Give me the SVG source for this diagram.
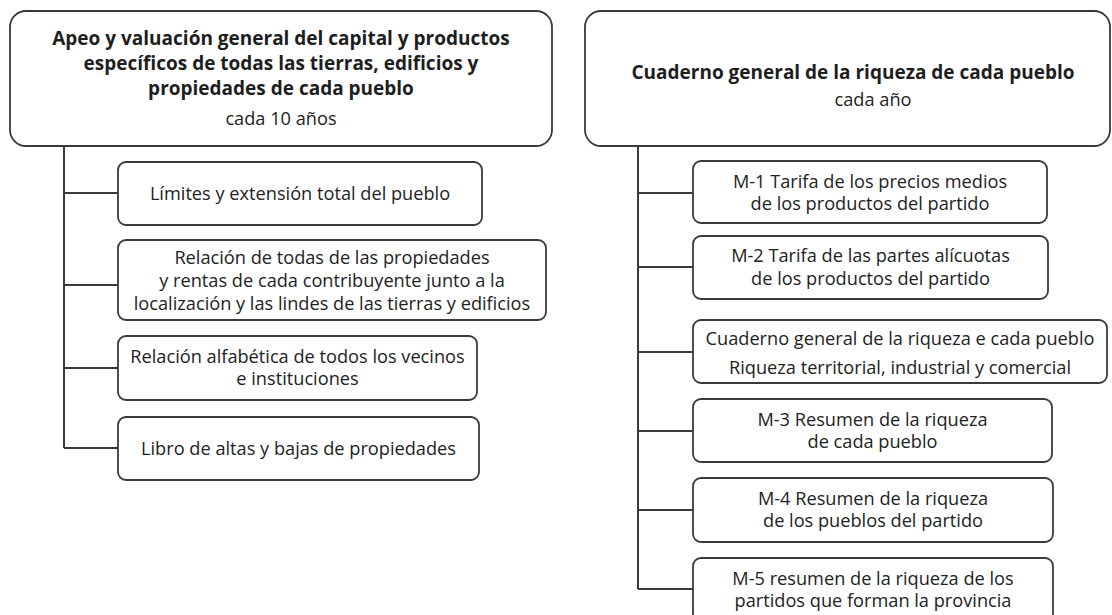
<svg xmlns="http://www.w3.org/2000/svg" width="1112" height="615" viewBox="0 0 1112 615">
<style>
.hdr{fill:#fff;stroke:#3a3a3a;stroke-width:1.8}
.box{fill:#fff;stroke:#3a3a3a;stroke-width:1.8}
.b{font-family:"Open Sans","Liberation Sans",sans-serif;font-weight:700;font-size:19px;fill:#1e1e1e;text-anchor:middle}
.t{font-family:"Open Sans","Liberation Sans",sans-serif;font-size:18.2px;fill:#222;text-anchor:middle}
.c{fill:none;stroke:#3a3a3a;stroke-width:2}
</style>
<rect width="1112" height="615" fill="#fff"/>
<g id="connectors">
<path class="c" d="M64 146V448M64 193H118M64 285H118M64 368H118M64 448H118"/>
<path class="c" d="M638 146V589M638 193H693M638 267H693M638 352H693M638 431H693M638 510H693M638 589H693"/>
</g>
<g id="hdr-left">
<rect class="hdr" x="10" y="11" width="542" height="135" rx="16"/>
<text class="b" x="281" y="45">Apeo y valuación general del capital y productos</text>
<text class="b" x="281" y="70">específicos de todas las tierras, edificios y</text>
<text class="b" x="281" y="95">propiedades de cada pueblo</text>
<text class="t" x="281" y="125">cada 10 años</text>
</g>
<g id="hdr-right">
<rect class="hdr" x="585" y="11" width="525" height="135" rx="16"/>
<text class="b" x="853" y="79">Cuaderno general de la riqueza de cada pueblo</text>
<text class="t" x="873" y="106">cada año</text>
</g>
<g id="l1">
<rect class="box" x="118" y="162" width="364" height="63" rx="8"/>
<text class="t" x="300" y="199.5">Límites y extensión total del pueblo</text>
</g>
<g id="l2">
<rect class="box" x="118" y="240" width="428" height="80" rx="8"/>
<text class="t" x="332" y="264">Relación de todas de las propiedades</text>
<text class="t" x="332" y="287">y rentas de cada contribuyente junto a la</text>
<text class="t" x="332" y="310">localización y las lindes de las tierras y edificios</text>
</g>
<g id="l3">
<rect class="box" x="118" y="336" width="359" height="64" rx="8"/>
<text class="t" x="297.5" y="363">Relación alfabética de todos los vecinos</text>
<text class="t" x="297.5" y="385">e instituciones</text>
</g>
<g id="l4">
<rect class="box" x="118" y="417" width="361" height="63" rx="8"/>
<text class="t" x="298.5" y="454.5">Libro de altas y bajas de propiedades</text>
</g>
<g id="m1">
<rect class="box" x="693" y="161" width="354" height="62" rx="8"/>
<text class="t" x="870" y="188">M-1 Tarifa de los precios medios</text>
<text class="t" x="870" y="210">de los productos del partido</text>
</g>
<g id="m2">
<rect class="box" x="693" y="236" width="355" height="63" rx="8"/>
<text class="t" x="870.5" y="262">M-2 Tarifa de las partes alícuotas</text>
<text class="t" x="870.5" y="284.5">de los productos del partido</text>
</g>
<g id="cg">
<rect class="box" x="693" y="320" width="414" height="63" rx="8"/>
<text class="t" x="900" y="344.5">Cuaderno general de la riqueza e cada pueblo</text>
<text class="t" x="900" y="373.5">Riqueza territorial, industrial y comercial</text>
</g>
<g id="m3">
<rect class="box" x="693" y="399" width="359" height="63" rx="8"/>
<text class="t" x="872.5" y="426">M-3 Resumen de la riqueza</text>
<text class="t" x="872.5" y="448">de cada pueblo</text>
</g>
<g id="m4">
<rect class="box" x="693" y="478" width="360" height="64" rx="8"/>
<text class="t" x="873" y="505">M-4 Resumen de la riqueza</text>
<text class="t" x="873" y="527">de los pueblos del partido</text>
</g>
<g id="m5">
<rect class="box" x="693" y="558" width="360" height="64" rx="8"/>
<text class="t" x="873" y="585">M-5 resumen de la riqueza de los</text>
<text class="t" x="873" y="607">partidos que forman la provincia</text>
</g>
</svg>
